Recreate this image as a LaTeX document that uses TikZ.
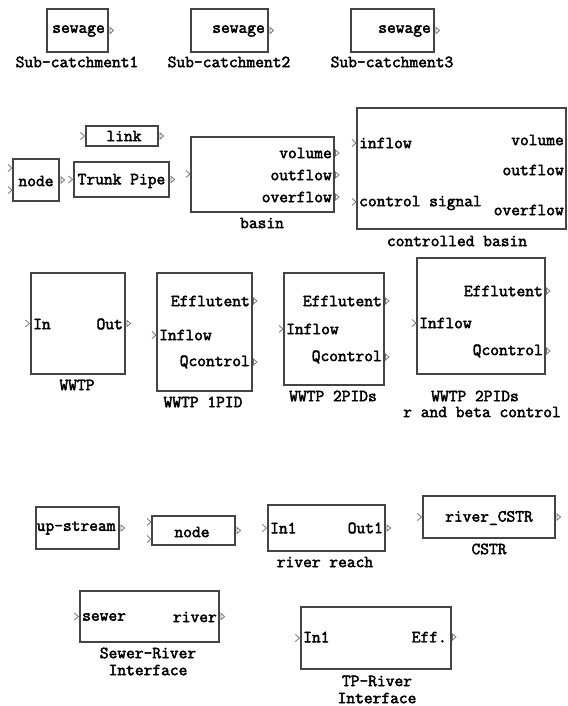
\documentclass[tikz,border=0pt]{standalone}
\usepackage{fontspec}
\newfontfamily\lbfamily{Latin Modern Mono}[FakeBold=2.6]
\definecolor{boxgray}{HTML}{444444}
\definecolor{portgray}{HTML}{777777}
\newcommand\lbfont{\fontsize{17}{18}\selectfont\lbfamily}
\begin{document}
\begin{tikzpicture}[x=1pt,y=-1pt,
  blk/.style={draw=boxgray, line width=1.1pt, fill=none, inner sep=0pt},
  lbl/.style={font=\lbfont, inner sep=0pt, text=black},
  inport/.pic={\draw[portgray, line width=0.8pt] (-5,-3.5)--(-1,0)--(-5,3.5);},
  outport/.pic={\draw[portgray, line width=0.8pt] (1.5,-3)--(5,0)--(1.5,3)--cycle;}]
\useasboundingbox (0,0) rectangle (567,706);
% ---- row 1: sub-catchments
\node[blk, minimum width=61, minimum height=43] (sc1) at (77.5,30.5) {};
\node[lbl, anchor=east] (sc1o) at (105,31) {sewage};
\pic at (sc1.east) {outport};
\node[lbl] (sc1l) at (77,62) {Sub-catchment1};
\node[blk, minimum width=77, minimum height=43] (sc2) at (229.5,30.5) {};
\node[lbl, anchor=east] (sc2o) at (265,31) {sewage};
\pic at (sc2.east) {outport};
\node[lbl] (sc2l) at (229,62) {Sub-catchment2};
\node[blk, minimum width=83, minimum height=43] (sc3) at (392.5,30.5) {};
\node[lbl, anchor=east] (sc3o) at (431,31) {sewage};
\pic at (sc3.east) {outport};
\node[lbl] (sc3l) at (392,62) {Sub-catchment3};
% ---- row 2
\node[blk, minimum width=72, minimum height=20] (link) at (122,136) {};
\node[lbl] (linkt) at (124,136) {link};
\pic at (link.west) {inport};
\pic at (link.east) {outport};
\node[blk, minimum width=46, minimum height=42] (nodeA) at (36,180) {};
\node[lbl] (nodeAt) at (36,181) {node};
\pic at (13,168) {inport};
\pic at (13,190) {inport};
\pic at (nodeA.east) {outport};
\node[blk, minimum width=95, minimum height=35] (trunk) at (121.5,179.5) {};
\node[lbl] (trunkt) at (121.5,181) {Trunk Pipe};
\pic at (trunk.west) {inport};
\pic at (trunk.east) {outport};
\node[blk, minimum width=143, minimum height=75] (basin) at (262.5,174.5) {};
\pic at (191,174) {inport};
\node[lbl, anchor=east] (bv) at (332,153) {volume};
\node[lbl, anchor=east] (bo) at (332,175) {outflow};
\node[lbl, anchor=east] (bov) at (332,197) {overflow};
\pic at (334,153) {outport};
\pic at (334,175) {outport};
\pic at (334,197) {outport};
\node[lbl] (basinl) at (262,223) {basin};
\node[blk, minimum width=209, minimum height=121] (cb) at (461.5,168.5) {};
\pic at (357,143) {inport};
\pic at (357,202) {inport};
\node[lbl, anchor=west] (cbi) at (359,143) {inflow};
\node[lbl, anchor=west] (cbc) at (359,203) {control signal};
\node[lbl, anchor=east] (cbv) at (564,140) {volume};
\node[lbl, anchor=east] (cbo) at (564,170) {outflow};
\node[lbl, anchor=east] (cbov) at (564,210) {overflow};
\node[lbl] (cbl) at (457,241) {controlled basin};
% ---- row 3: WWTPs
\node[blk, minimum width=94, minimum height=101] (w0) at (78,323.5) {};
\pic at (w0.west) {inport};
\pic at (w0.east) {outport};
\node[lbl, anchor=west] (w0i) at (33,324) {In};
\node[lbl, anchor=east] (w0o) at (123,324) {Out};
\node[lbl] (w0l) at (77,385) {WWTP};
\node[blk, minimum width=95, minimum height=118] (w1) at (204.5,332) {};
\node[lbl, anchor=east] (w1e) at (250,301) {Efflutent};
\node[lbl, anchor=west] (w1i) at (159,335) {Inflow};
\node[lbl, anchor=east] (w1q) at (250,362) {Qcontrol};
\pic at (157,335) {inport};
\pic at (252,301) {outport};
\pic at (252,362) {outport};
\node[lbl] (w1l) at (203,402) {WWTP 1PID};
\node[blk, minimum width=100, minimum height=112] (w2) at (334,329) {};
\node[lbl, anchor=east] (w2e) at (382,301) {Efflutent};
\node[lbl, anchor=west] (w2i) at (286,329) {Inflow};
\node[lbl, anchor=east] (w2q) at (382,357) {Qcontrol};
\pic at (284,329) {inport};
\pic at (384,301) {outport};
\pic at (384,357) {outport};
\node[lbl] (w2l) at (333,396) {WWTP 2PIDs};
\node[blk, minimum width=128, minimum height=116] (w3) at (481,316) {};
\node[lbl, anchor=east] (w3e) at (543,291) {Efflutent};
\node[lbl, anchor=west] (w3i) at (419,323) {Inflow};
\node[lbl, anchor=east] (w3q) at (543,351) {Qcontrol};
\pic at (417,323) {inport};
\pic at (545,291) {outport};
\pic at (545,351) {outport};
\node[lbl] (w3l) at (475,396) {WWTP 2PIDs};
\node[lbl] (w3l2) at (482,412) {r and beta control};
% ---- row 4: river
\node[blk, minimum width=83, minimum height=42] (up) at (77.5,528) {};
\node[lbl, anchor=west] (upt) at (36.5,528) {up-stream};
\pic at (up.east) {outport};
\node[blk, minimum width=83, minimum height=29] (nodeB) at (193.5,530.5) {};
\node[lbl] (nodeBt) at (192,532) {node};
\pic at (152,522) {inport};
\pic at (152,539) {inport};
\pic at (nodeB.east) {outport};
\node[blk, minimum width=117, minimum height=46] (rr) at (326.5,528) {};
\node[lbl, anchor=west] (rri) at (270,528) {In1};
\node[lbl, anchor=east] (rro) at (383,528) {Out1};
\pic at (rr.west) {inport};
\pic at (rr.east) {outport};
\node[lbl] (rrl) at (325,562) {river reach};
\node[blk, minimum width=132, minimum height=42] (cstr) at (489,517) {};
\node[lbl] (cstrt) at (489,518) {river\_CSTR};
\pic at (cstr.west) {inport};
\pic at (cstr.east) {outport};
\node[lbl] (cstrl) at (489,549) {CSTR};
% ---- row 5: interfaces
\node[blk, minimum width=139, minimum height=51] (sr) at (149.5,616.5) {};
\node[lbl, anchor=west] (srs) at (82,617) {sewer};
\node[lbl, anchor=east] (srr) at (217,617) {river};
\pic at (sr.west) {inport};
\pic at (sr.east) {outport};
\node[lbl] (srl1) at (148,653) {Sewer-River};
\node[lbl] (srl2) at (148,670) {Interface};
\node[blk, minimum width=150, minimum height=62] (tp) at (376,638) {};
\node[lbl, anchor=west] (tpi) at (303,637) {In1};
\node[lbl, anchor=east] (tpe) at (447,637) {Eff.};
\pic at (tp.west) {inport};
\pic at (451,637) {outport};
\node[lbl] (tpl1) at (377,681) {TP-River};
\node[lbl] (tpl2) at (377,698) {Interface};
\end{tikzpicture}
\end{document}
